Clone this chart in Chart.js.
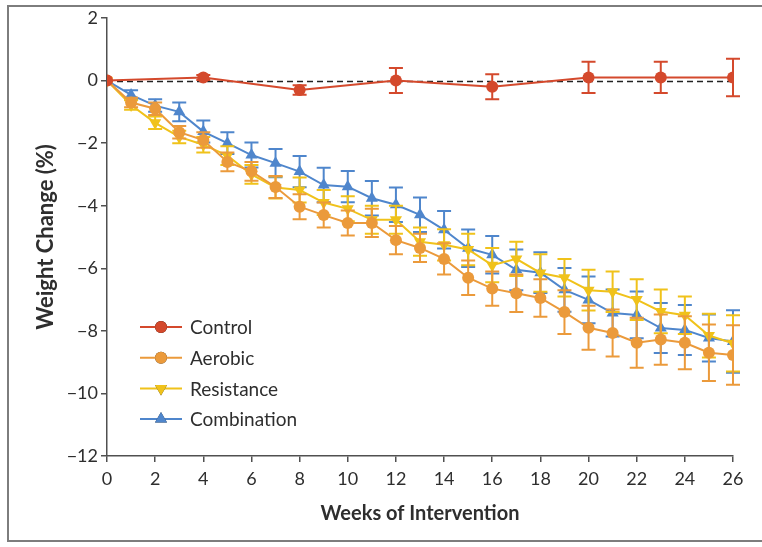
<!DOCTYPE html>
<html>
<head>
<meta charset="utf-8">
<script src="https://cdn.jsdelivr.net/npm/chart.js@4.4.0/dist/chart.umd.min.js"></script>
<style>
  html, body { margin: 0; padding: 0; background: #fff; }
  #wrap { position: relative; width: 762px; height: 547px; overflow: hidden; }
  #frame {
    position: absolute; left: 7px; top: 5px; width: 800px; height: 537px;
    border: 2px solid #7d7d7d; box-sizing: border-box;
  }
  canvas { position: absolute; left: 0; top: 0; }
</style>
</head>
<body>
<div id="wrap">
  <div id="frame"></div>
  <canvas id="chart" width="762" height="547"></canvas>
</div>
<script>
/* ── Data ────────────────────────────────────────────────── */
const weeks = [0, 1, 2, 3, 4, 5, 6, 7, 8, 9, 10, 11, 12, 13, 14, 15, 16, 17, 18, 19, 20, 21, 22, 23, 24, 25, 26];

const controlWeeks = [0, 4, 8, 12, 16, 20, 23, 26];
const controlMean  = [0, 0.1, -0.3, 0, -0.2, 0.1, 0.1, 0.1];
const controlErr   = [0, 0.08, 0.15, 0.4, 0.4, 0.5, 0.5, 0.6];

const aerobicMean = [0, -0.7, -0.9, -1.65, -1.9, -2.6, -2.9, -3.4, -4.03, -4.3, -4.55, -4.55, -5.1, -5.35, -5.7, -6.3, -6.65, -6.8, -6.95, -7.4, -7.9, -8.07, -8.38, -8.28, -8.38, -8.7, -8.77];
const aerobicErr  = [0, 0.15, 0.2, 0.2, 0.25, 0.3, 0.3, 0.35, 0.4, 0.4, 0.4, 0.45, 0.45, 0.45, 0.5, 0.55, 0.55, 0.6, 0.6, 0.7, 0.7, 0.75, 0.8, 0.8, 0.85, 0.9, 0.95];

const resistanceMean = [0, -0.78, -1.35, -1.8, -2.05, -2.4, -3.0, -3.42, -3.5, -3.9, -4.1, -4.45, -4.45, -5.15, -5.25, -5.4, -5.9, -5.7, -6.15, -6.3, -6.7, -6.75, -7.0, -7.38, -7.5, -8.15, -8.4];
const resistanceErr  = [0, 0.15, 0.2, 0.2, 0.25, 0.3, 0.3, 0.35, 0.4, 0.4, 0.4, 0.45, 0.45, 0.45, 0.5, 0.5, 0.55, 0.55, 0.6, 0.6, 0.65, 0.65, 0.65, 0.7, 0.6, 0.7, 0.9];

const combinationMean = [0, -0.46, -0.8, -1.0, -1.63, -2.0, -2.38, -2.64, -2.91, -3.34, -3.39, -3.76, -3.97, -4.29, -4.77, -5.36, -5.57, -6.05, -6.14, -6.69, -7.01, -7.43, -7.49, -7.91, -7.97, -8.23, -8.34];
const combinationErr  = [0, 0.15, 0.2, 0.3, 0.35, 0.35, 0.4, 0.45, 0.5, 0.55, 0.5, 0.55, 0.55, 0.55, 0.6, 0.6, 0.6, 0.65, 0.65, 0.7, 0.75, 0.75, 0.75, 0.8, 0.8, 0.75, 1.0];

const xTicks = [0, 2, 4, 6, 8, 10, 12, 14, 16, 18, 20, 22, 24, 26];
const yTicks = [2, 0, -2, -4, -6, -8, -10, -12];

const COLORS = {
  control: '#d4492c',
  aerobic: '#eb9a3b',
  resistance: '#f0c21a',
  combination: '#4f86cc',
  axis: '#505050',
  text: '#2e2e2e',
};

const FONT = 'Lato';

function points(xs, ys, errs) {
  return xs.map((x, i) => ({ x, y: ys[i], err: errs[i] }));
}

function series(label, xs, ys, errs, color, style, rotation) {
  return {
    label,
    data: points(xs, ys, errs),
    borderColor: color,
    backgroundColor: color,
    borderWidth: 2,
    pointStyle: style,
    pointRotation: rotation || 0,
    pointRadius: style === 'circle' ? 6 : 7,
    pointHoverRadius: 7,
    pointBorderWidth: 0,
    tension: 0,
  };
}

// ── error bars, drawn under each dataset ──────────────────────
const errorBars = {
  id: 'errorBars',
  beforeDatasetDraw(chart, args) {
    const ds = chart.data.datasets[args.index];
    const { ctx, scales: { x, y } } = chart;
    ctx.save();
    ctx.strokeStyle = ds.borderColor;
    ctx.lineWidth = 2;
    ds.data.forEach(p => {
      if (!p.err) return;
      const px = x.getPixelForValue(p.x);
      const top = y.getPixelForValue(p.y + p.err);
      const bot = y.getPixelForValue(p.y - p.err);
      ctx.beginPath();
      ctx.moveTo(px, top); ctx.lineTo(px, bot);
      ctx.moveTo(px - 7, top); ctx.lineTo(px + 7, top);
      ctx.moveTo(px - 7, bot); ctx.lineTo(px + 7, bot);
      ctx.stroke();
    });
    ctx.restore();
  },
};

// ── dashed zero reference line ───────────────────────────────
const zeroLine = {
  id: 'zeroLine',
  beforeDatasetsDraw(chart) {
    const { ctx, chartArea, scales: { y } } = chart;
    const py = Math.round(y.getPixelForValue(0)) + 0.5;
    ctx.save();
    ctx.strokeStyle = '#222';
    ctx.lineWidth = 1.3;
    ctx.setLineDash([6, 4]);
    ctx.beginPath();
    ctx.moveTo(chartArea.left, py);
    ctx.lineTo(chartArea.right, py);
    ctx.stroke();
    ctx.restore();
  },
};

// ── legend inside plot: line + marker + label ─────────────────
const insideLegend = {
  id: 'insideLegend',
  afterDraw(chart) {
    const { ctx } = chart;
    const x0 = 140, x1 = 182, tx = 190;
    let yy = 327;
    ctx.save();
    chart.data.datasets.forEach(ds => {
      ctx.strokeStyle = ds.borderColor;
      ctx.lineWidth = 2;
      ctx.beginPath();
      ctx.moveTo(x0, yy); ctx.lineTo(x1, yy);
      ctx.stroke();
      Chart.helpers.drawPoint(ctx, {
        pointStyle: ds.pointStyle,
        rotation: ds.pointRotation,
        radius: ds.pointRadius,
        borderWidth: 0,
      }, (x0 + x1) / 2, yy);
      ctx.fillStyle = ds.borderColor;
      ctx.fill();
      ctx.fillStyle = COLORS.text;
      ctx.font = `19px ${FONT}`;
      ctx.textBaseline = 'middle';
      ctx.fillText(ds.label, tx, yy + 1);
      yy += 30.7;
    });
    ctx.restore();
  },
};

const minus = v => (v < 0 ? '\u2212' + Math.abs(v) : String(v));

new Chart(document.getElementById('chart'), {
  type: 'line',
  data: {
    datasets: [
      series('Control', controlWeeks, controlMean, controlErr, COLORS.control, 'circle'),
      series('Aerobic', weeks, aerobicMean, aerobicErr, COLORS.aerobic, 'circle'),
      series('Resistance', weeks, resistanceMean, resistanceErr, COLORS.resistance, 'triangle', 180),
      series('Combination', weeks, combinationMean, combinationErr, COLORS.combination, 'triangle'),
    ],
  },
  options: {
    responsive: false,
    animation: false,
    events: [],
    layout: { padding: { left: 0, top: 18, right: 29, bottom: 0 } },
    plugins: { legend: { display: false }, tooltip: { enabled: false } },
    scales: {
      x: {
        type: 'linear', min: 0, max: 26,
        afterFit: s => { s.height = 91; },
        afterBuildTicks: s => { s.ticks = xTicks.map(v => ({ value: v })); },
        grid: { display: true, drawOnChartArea: false, drawTicks: true, tickLength: 6, color: COLORS.axis, lineWidth: 1.5 },
        border: { display: true, color: COLORS.axis, width: 1.5 },
        ticks: { font: { family: FONT, size: 18 }, color: COLORS.text, padding: 6, maxRotation: 0 },
        title: {
          display: true, text: 'Weeks of Intervention',
          font: { family: FONT, size: 20, weight: 'bold' }, color: COLORS.text,
          padding: { top: 0, bottom: 21 },
        },
      },
      y: {
        type: 'linear', min: -12, max: 2,
        afterFit: s => { s.width = 107; },
        afterBuildTicks: s => { s.ticks = yTicks.map(v => ({ value: v })); },
        grid: { display: true, drawOnChartArea: false, drawTicks: true, tickLength: 6, color: COLORS.axis, lineWidth: 1.5 },
        border: { display: true, color: COLORS.axis, width: 1.5 },
        ticks: { font: { family: FONT, size: 18 }, color: COLORS.text, padding: 3, callback: minus },
        title: {
          display: true, text: 'Weight Change (%)',
          font: { family: FONT, size: 22, weight: 'bold' }, color: COLORS.text,
          padding: { top: 33, bottom: 0 },
        },
      },
    },
  },
  plugins: [errorBars, zeroLine, insideLegend],
});
</script>
</body>
</html>
